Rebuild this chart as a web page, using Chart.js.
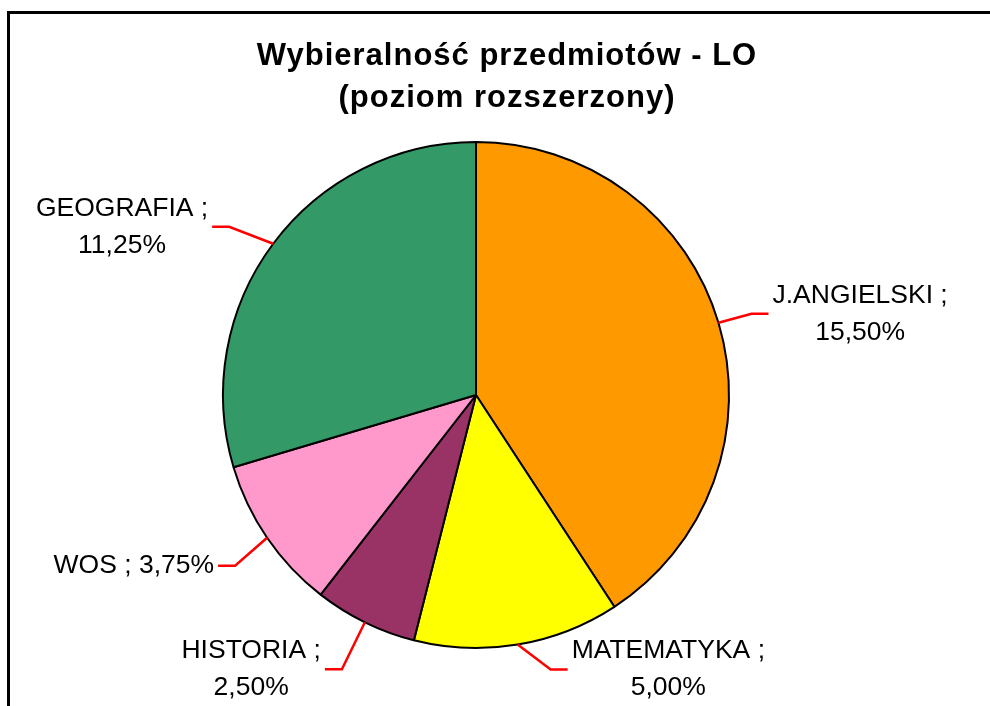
<!DOCTYPE html>
<html>
<head>
<meta charset="utf-8">
<script src="https://cdn.jsdelivr.net/npm/chart.js@4"></script>
<style>
  html, body { margin: 0; padding: 0; background: #ffffff; }
  #wrap { position: relative; width: 990px; height: 706px; }
</style>
</head>
<body>
<div id="wrap"><canvas id="c" width="990" height="706"></canvas></div>
<script>
// ---- data ----
const categories = ['J.ANGIELSKI', 'MATEMATYKA', 'HISTORIA', 'WOS', 'GEOGRAFIA'];
const values = [15.5, 5.0, 2.5, 3.75, 11.25];
const sliceColors = ['#FF9900', '#FFFF00', '#993366', '#FF99CC', '#339966'];
const titleLines = ['Wybieralność przedmiotów - LO', '(poziom rozszerzony)'];

// ---- layout for label leaders (relative to slice edge midpoint) ----
const leaderLayout = [
  { dx: 33, dy: -9, side: 1 },
  { dx: 33, dy: 25, side: 1 },
  { dx: -23, dy: 47, side: -1 },
  { dx: -32, dy: 28, side: -1 },
  { dx: -44, dy: -17, side: -1 }
];

function fmt(v) {
  return v.toFixed(2).replace('.', ',') + '%';
}

const decoPlugin = {
  id: 'deco',
  beforeDraw(chart) {
    const ctx = chart.ctx;
    ctx.save();
    ctx.fillStyle = '#ffffff';
    ctx.fillRect(0, 0, chart.width, chart.height);
    ctx.strokeStyle = '#000000';
    ctx.lineWidth = 3;
    ctx.beginPath();
    ctx.moveTo(8.5, chart.height + 5);
    ctx.lineTo(8.5, 12.5);
    ctx.lineTo(chart.width + 5, 12.5);
    ctx.stroke();
    // title
    ctx.fillStyle = '#000000';
    ctx.font = 'bold 31px "Liberation Sans", Arial, sans-serif';
    ctx.textAlign = 'center';
    ctx.textBaseline = 'middle';
    try { ctx.letterSpacing = '1px'; } catch (e) {}
    ctx.fillText(titleLines[0], 507, 56);
    ctx.fillText(titleLines[1], 507, 98);
    try { ctx.letterSpacing = '0px'; } catch (e) {}
    ctx.restore();
  },
  afterDatasetsDraw(chart) {
    const ctx = chart.ctx;
    const meta = chart.getDatasetMeta(0);
    ctx.save();
    meta.data.forEach((arc, i) => {
      const p = arc.getProps(['x', 'y', 'startAngle', 'endAngle', 'outerRadius'], true);
      const mid = (p.startAngle + p.endAngle) / 2;
      const ex = p.x + p.outerRadius * Math.cos(mid);
      const ey = p.y + p.outerRadius * Math.sin(mid);
      const L = leaderLayout[i];
      const bx = ex + L.dx, by = ey + L.dy;
      const hx = bx + L.side * 17;
      ctx.strokeStyle = '#FF0000';
      ctx.lineWidth = 2.5;
      ctx.beginPath();
      ctx.moveTo(ex, ey);
      ctx.lineTo(bx, by);
      ctx.lineTo(hx, by);
      ctx.stroke();

      const name = categories[i] + ' ;';
      const val = fmt(values[i]);
      const lines = categories[i].length <= 3 ? [name + ' ' + val] : [name, val];
      ctx.font = '26.5px "Liberation Sans", Arial, sans-serif';
      ctx.fillStyle = '#000000';
      ctx.textBaseline = 'middle';
      ctx.textAlign = 'center';
      const w = Math.max(...lines.map(t => ctx.measureText(t).width));
      const cx = L.side > 0 ? hx + 4 + w / 2 : hx - 4 - w / 2;
      const lh = 37;
      const cy = by;
      lines.forEach((t, k) => {
        ctx.fillText(t, cx, cy + (k - (lines.length - 1) / 2) * lh);
      });
    });
    ctx.restore();
  }
};

new Chart(document.getElementById('c'), {
  type: 'pie',
  data: {
    labels: categories,
    datasets: [{
      data: values,
      backgroundColor: sliceColors,
      borderColor: '#000000',
      borderWidth: 2
    }]
  },
  options: {
    responsive: false,
    animation: false,
    devicePixelRatio: 1,
    layout: { padding: { left: 222, right: 260, top: 141, bottom: 57 } },
    plugins: {
      legend: { display: false },
      title: { display: false },
      tooltip: { enabled: false }
    }
  },
  plugins: [decoPlugin]
});
</script>
</body>
</html>
